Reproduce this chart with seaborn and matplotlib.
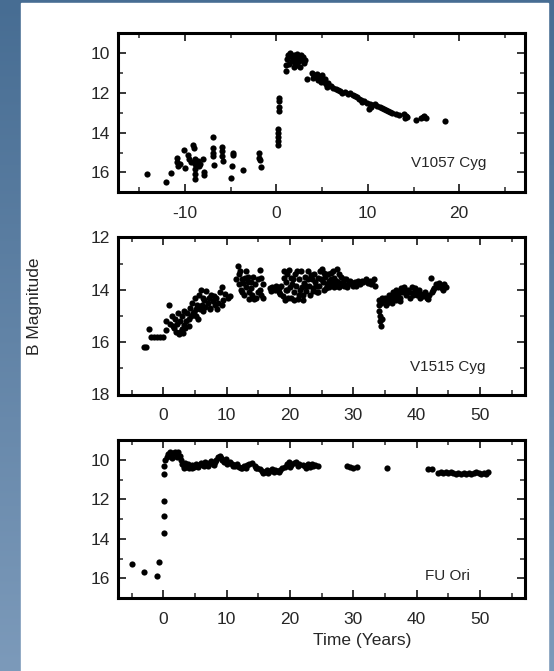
import numpy as np
import matplotlib
matplotlib.use("Agg")
import matplotlib.pyplot as plt
from matplotlib.patches import Rectangle
from matplotlib.ticker import MultipleLocator
import seaborn as sns

sns.set_style("ticks")
plt.rcParams['font.family'] = ['Liberation Sans', 'DejaVu Sans']
plt.rcParams['axes.unicode_minus'] = False

# V1057 Cyg light curve (years, B mag)
v1057_t = [-14.2, -12.1, -11.5, -10.9, -10.9, -10.8, -10.6, -10.1, -10.0, -9.7, -9.6, -9.4,
           -9.1, -9.0, -8.9, -8.9, -8.9, -8.9, -8.9, -8.6, -8.5, -8.4, -8.0, -7.9, -7.9,
           -6.9, -6.9, -6.9, -6.9, -6.8, -6.0, -5.9, -5.9, -5.8, -5.0, -4.9, -4.8, -4.7,
           -3.7, -1.9, -1.9, -1.8, -1.7,
           0.3, 0.25, 0.3, 0.3, 0.2, 0.2, 0.2, 0.2, 0.2,
           1.0, 1.1, 1.2, 1.3, 1.4, 1.5, 1.6, 1.7, 1.8, 1.9, 1.9, 2.0, 2.1, 2.2, 2.3, 2.4,
           2.5, 2.6, 2.8, 3.0, 2.7, 2.9, 3.1, 2.2,
           3.3, 3.9, 4.1, 4.3, 4.5, 4.6, 4.8, 5.0, 5.0, 5.2, 5.4, 5.5,
           4.0, 4.4, 4.9, 5.3, 5.6, 6.0, 6.5, 7.0,
           6.2, 6.7, 7.2, 7.5, 7.8, 8.1, 8.4, 8.8, 9.0, 9.3, 9.6, 9.9, 10.1, 10.2, 10.5,
           8.6, 9.4, 10.3, 10.8, 11.8, 12.2, 13.4, 14.1, 16.4,
           11.0, 11.3, 11.6, 12.0, 12.4, 12.7, 13.1, 14.0, 14.2, 14.3, 15.3, 15.8, 16.0,
           16.2, 18.4]
v1057_b = [16.1, 16.5, 16.05, 15.25, 15.5, 15.7, 15.6, 14.85, 15.8, 15.1, 15.3, 15.5,
           14.6, 14.75, 15.3, 15.6, 15.85, 16.1, 16.35, 15.45, 15.7, 15.6, 15.3, 16.0, 16.15,
           14.2, 14.75, 15.0, 15.15, 15.65, 14.7, 14.9, 15.15, 15.45, 16.3, 15.7, 15.0, 15.1,
           15.9, 15.0, 15.25, 15.4, 15.75,
           12.25, 12.4, 12.7, 12.9, 13.8, 14.0, 14.2, 14.4, 14.6,
           10.9, 10.6, 10.3, 10.1, 10.55, 10.0, 10.15, 10.4, 10.25, 10.1, 10.7, 10.5, 10.2,
           10.35, 10.6, 10.2, 10.4, 10.7, 10.3, 10.5, 10.1, 10.2, 10.35, 10.05,
           11.3, 11.0, 11.1, 11.2, 11.35, 11.15, 11.3, 11.25, 11.1, 11.45, 11.55, 11.7,
           11.25, 11.05, 11.45, 11.3, 11.5, 11.65, 11.8, 11.9,
           11.75, 11.85, 12.0, 11.95, 12.05, 12.0, 12.1, 12.2, 12.3, 12.35, 12.4, 12.5,
           12.8, 12.55, 12.6, 12.15, 12.45, 12.7, 12.55, 12.8, 12.9, 13.1, 13.25, 13.25,
           12.65, 12.7, 12.75, 12.85, 12.95, 13.0, 13.05, 13.05, 13.15,
           13.2, 13.35, 13.25, 13.2, 13.15, 13.4]

# V1515 Cyg light curve
v1515_t = [-3.1, -2.8, -2.2, -2.0, -1.5, -1.0, -0.5, 0.0,
           0.4, 0.5, 0.9, 1.0, 1.3, 1.5, 1.8, 2.0, 2.2, 2.4, 2.5, 2.7, 2.9, 3.0, 3.2, 3.3,
           3.6, 3.8, 4.0, 4.2, 4.4, 4.6, 4.8, 5.0, 5.1, 5.3, 5.5, 5.6, 5.9, 6.1, 6.3, 6.5,
           6.8, 7.0, 7.2, 7.4, 7.6, 7.9, 8.1, 8.3, 8.7, 9.0, 9.3, 9.5, 9.8, 10.2, 10.5,
           1.7, 2.6, 3.1, 3.5, 4.1, 4.7, 5.2, 5.8, 6.2, 6.6, 7.3, 8.0, 8.5, 9.2,
           11.5, 11.8, 11.9, 12.0, 12.2, 12.4, 12.6, 12.8, 13.0, 13.1, 13.3, 13.5, 13.6,
           13.8, 14.0, 14.2, 14.5, 14.7, 15.0, 15.2, 15.3, 15.5, 15.8,
           12.1, 12.5, 12.9, 13.4, 13.9, 14.3, 14.9, 15.4, 15.7,
           16.8, 17.2, 17.6, 18.0, 18.3, 18.6, 18.9, 19.0, 19.2, 19.4, 19.6, 19.8, 20.0,
           20.2, 20.4, 20.6, 20.8, 21.0, 21.2, 21.4, 21.6, 21.8, 22.0, 22.2, 22.4, 22.6,
           22.8, 23.0, 23.2, 23.4, 23.6, 23.8, 24.0, 24.2, 24.4, 24.6, 24.8, 25.0, 25.2,
           25.4, 25.6, 25.8, 26.0, 26.2, 26.4, 26.6, 26.8, 27.0, 27.2, 27.4, 27.6, 27.8,
           28.0, 28.3, 28.6, 28.9, 29.2, 29.5, 29.9, 30.3, 30.7, 31.0, 31.6, 32.0, 32.3,
           32.6, 33.0, 33.3, 33.5,
           17.0, 17.4, 17.8, 18.2, 18.5, 19.1, 19.3, 19.5, 19.7, 20.1, 20.3, 20.7, 21.1,
           21.5, 21.9, 22.1, 22.5, 22.9, 23.3, 23.7, 24.1, 24.5, 24.9, 25.3, 25.7, 26.1,
           26.5, 26.9, 27.3, 27.7, 28.1, 28.5, 29.0, 29.4, 30.0, 30.5, 31.3, 32.8,
           34.1, 34.1, 34.1, 34.2, 34.2, 34.3, 34.4, 34.5, 34.6,
           35.0, 35.3, 35.6, 35.9, 36.2, 36.5, 36.8, 37.1, 37.4, 37.7, 38.0, 38.3, 38.6,
           38.9, 39.2, 39.5, 39.8, 40.1, 40.4, 40.7, 41.0, 41.3, 41.6, 42.0, 42.3, 42.6,
           43.0, 43.3, 43.6, 44.0, 44.3, 44.6,
           34.8, 35.1, 35.5, 35.8, 36.1, 36.4, 36.7, 37.0, 37.3, 37.6, 38.2, 38.8, 39.4,
           40.0, 40.6, 41.2, 41.8, 42.4, 42.8, 43.5, 44.2]
v1515_b = [16.2, 16.2, 15.5, 15.8, 15.8, 15.8, 15.8, 15.8,
           15.2, 15.55, 14.6, 15.3, 15.0, 15.4, 15.1, 15.6, 15.3, 14.9, 15.7, 15.2, 15.5,
           15.0, 15.35, 14.8, 15.2, 14.9, 15.4, 14.7, 15.0, 14.5, 14.85, 14.3, 14.75, 14.6,
           15.1, 14.2, 14.0, 14.6, 14.8, 14.4, 14.05, 14.5, 14.3, 14.7, 14.2, 14.45, 14.6,
           14.3, 14.5, 14.1, 13.9, 14.4, 14.15, 14.3, 14.25,
           15.45, 15.6, 15.65, 15.45, 15.1, 14.9, 15.0, 14.75, 14.3, 14.65, 14.75, 14.25,
           14.75, 14.6,
           13.6, 13.1, 13.4, 13.8, 14.0, 13.6, 13.75, 14.2, 13.3, 13.9, 13.5, 14.1, 14.35,
           13.7, 14.2, 13.5, 13.8, 14.3, 13.6, 14.0, 13.25, 14.2, 13.8,
           13.3, 14.1, 13.55, 13.7, 13.95, 14.35, 14.1, 13.55, 14.3,
           13.95, 13.9, 14.0, 13.9, 14.1, 13.85, 14.25, 13.3, 14.4, 13.7, 14.0, 13.25, 13.9,
           14.3, 13.6, 14.1, 13.4, 13.85, 14.35, 13.6, 14.0, 13.3, 14.2, 13.75, 13.5, 14.05,
           13.3, 13.85, 14.2, 13.6, 13.95, 13.4, 13.7, 14.1, 13.55, 13.85, 13.3, 13.2, 13.7,
           14.0, 13.5, 13.8, 13.4, 13.9, 13.6, 13.75, 13.3, 13.55, 13.85, 13.2, 13.7, 13.9,
           13.5, 13.7, 13.85, 13.6, 13.8, 13.75, 13.85, 13.7, 13.65, 13.8, 13.7, 13.6, 13.75,
           13.65, 13.7, 13.6, 13.85,
           14.05, 13.95, 13.85, 13.95, 14.15, 13.55, 14.0, 13.4, 14.3, 13.55, 13.8, 14.4,
           13.3, 14.2, 13.9, 14.4, 13.85, 13.6, 13.45, 14.05, 13.85, 14.1, 13.6, 13.35,
           13.95, 13.65, 13.35, 13.9, 13.65, 13.4, 13.8, 13.6, 13.9, 13.65, 13.75, 13.85,
           13.65, 13.8,
           14.4, 14.6, 14.8, 15.0, 15.2, 15.4, 14.5, 15.1, 14.3,
           14.3, 14.5, 14.2, 14.4, 14.1, 14.35, 14.0, 14.25, 14.45, 14.1, 13.9, 14.2, 14.0,
           14.3, 13.9, 14.1, 13.95, 14.2, 14.0, 14.15, 14.25, 14.1, 14.3, 14.2, 13.55, 14.0,
           13.8, 13.9, 13.75, 13.95, 13.8, 13.9,
           14.4, 14.6, 14.35, 14.25, 14.5, 14.2, 14.4, 14.1, 14.3, 13.95, 14.05, 14.1, 14.2,
           14.05, 14.3, 14.2, 14.35, 14.1, 13.95, 13.85, 14.0]

# FU Ori light curve
fuori_t = [-5.0, -3.0, -1.0, -0.7, 0.1, 0.1, 0.1, 0.1, 0.15, 0.2,
           0.6, 0.8, 1.0, 1.2, 1.4, 1.6, 1.8, 2.0, 2.2, 2.4, 2.6, 2.8, 3.0, 3.2, 3.4, 3.6,
           3.9, 4.2, 4.5, 4.8, 5.1, 5.4, 5.7, 6.0, 6.3, 6.6, 6.9, 7.2, 7.5, 7.8, 8.1, 8.4,
           8.7, 9.0, 9.3, 9.6, 9.9, 10.2, 10.5, 10.8, 11.1, 11.4, 11.7, 12.0, 12.4, 12.8,
           13.2, 13.6, 14.0, 14.4, 14.8, 15.2, 15.6, 16.0, 16.4, 16.8, 17.2, 17.6, 18.0,
           18.4, 18.8, 19.2, 19.5, 19.8, 20.2, 20.6, 21.0, 21.4, 22.0, 22.4, 22.8, 23.2,
           23.6, 24.0, 24.4,
           3.3, 4.0, 4.6, 5.5, 6.4, 7.0, 8.0, 9.1, 10.0, 11.0, 12.2, 13.0, 14.6, 15.8,
           16.6, 17.4, 18.2, 20.0, 21.2, 22.6, 23.4,
           29.0, 29.5, 30.0, 30.6, 35.3, 41.8, 42.4,
           43.4, 43.8, 44.2, 44.6, 45.0, 45.4, 45.8, 46.2, 46.6, 47.0, 47.4, 47.8, 48.2,
           48.6, 49.0, 49.4, 49.8, 50.2, 50.6, 51.0, 51.3]
fuori_b = [15.3, 15.7, 15.9, 15.2, 13.7, 12.85, 12.1, 10.7, 10.3, 10.0,
           9.85, 9.7, 9.6, 9.75, 9.9, 9.65, 9.6, 9.7, 9.85, 9.6, 9.8, 10.0, 10.2, 10.3,
           10.15, 10.35, 10.2, 10.3, 10.25, 10.35, 10.2, 10.3, 10.25, 10.15, 10.25, 10.1,
           10.2, 10.15, 10.05, 10.2, 10.1, 10.0, 9.85, 9.8, 10.0, 10.1, 9.95, 10.15, 10.1,
           10.2, 10.25, 10.3, 10.2, 10.35, 10.4, 10.3, 10.25, 10.2, 10.15, 10.3, 10.4, 10.45,
           10.55, 10.6, 10.5, 10.55, 10.45, 10.5, 10.55, 10.5, 10.4, 10.35, 10.2, 10.1,
           10.25, 10.15, 10.1, 10.2, 10.25, 10.3, 10.2, 10.35, 10.3, 10.25, 10.3,
           10.4, 10.4, 10.4, 10.35, 10.3, 10.3, 10.25, 9.9, 10.2, 10.3, 10.4, 10.4, 10.4,
           10.65, 10.65, 10.6, 10.6, 10.35, 10.3, 10.4, 10.2,
           10.3, 10.35, 10.4, 10.35, 10.4, 10.45, 10.45,
           10.65, 10.6, 10.65, 10.6, 10.65, 10.6, 10.65, 10.7, 10.65, 10.7, 10.65, 10.7,
           10.65, 10.7, 10.65, 10.6, 10.65, 10.7, 10.65, 10.7, 10.6]

names = ['V1057 Cyg', 'V1515 Cyg', 'FU Ori']

W, H = 554, 671
fig = plt.figure(figsize=(W / 100, H / 100), dpi=100)

# slide background: blue gradient with a white card
bg = fig.add_axes([0, 0, 1, 1], zorder=-10)
grad = np.linspace(0, 1, 256).reshape(-1, 1)
cmap = matplotlib.colors.LinearSegmentedColormap.from_list('slide', ['#476d93', '#7c9aba'])
bg.imshow(grad, aspect='auto', cmap=cmap, extent=[0, 1, 0, 1], origin='upper')
bg.add_patch(Rectangle((21 / W, 0), (548 - 21) / W, 1 - 3 / H, color='white'))
bg.set_xlim(0, 1)
bg.set_ylim(0, 1)
bg.axis('off')

left, width = 118.3 / W, (525 - 118.3) / W
boxes = [(33.3, 192.3), (237.3, 394.5), (440, 598)]
axes = []
for top, bot in boxes:
    axes.append(fig.add_axes([left, 1 - bot / H, width, (bot - top) / H]))

series = [(v1057_t, v1057_b), (v1515_t, v1515_b), (fuori_t, fuori_b)]
xlims = [(-17.3, 27.2), (-7.1, 57.1), (-7.1, 57.1)]
ylims = [(17, 9), (18, 12), (17, 9)]
label_x = [0.905, 0.903, 0.865]
label_y = [15.55, 16.95, 15.9]

for ax, (t, b), xl, yl, name, lx, ly in zip(axes, series, xlims, ylims, names, label_x, label_y):
    sns.scatterplot(x=t, y=b, ax=ax, color='black', s=20, linewidth=0, legend=False)
    ax.set_xlim(*xl)
    ax.set_ylim(*yl)
    ax.xaxis.set_major_locator(MultipleLocator(10))
    ax.xaxis.set_minor_locator(MultipleLocator(5))
    ax.yaxis.set_major_locator(MultipleLocator(2))
    ax.yaxis.set_minor_locator(MultipleLocator(1))
    ax.tick_params(which='both', direction='in', top=True, right=True, labelsize=12.5)
    ax.tick_params(which='major', length=6, width=1.3)
    ax.tick_params(which='minor', length=3.5, width=1.1)
    ax.tick_params(axis='x', pad=10)
    ax.tick_params(axis='y', pad=6)
    for sp in ax.spines.values():
        sp.set_linewidth(2.2)
        sp.set_color('black')
    ax.set_facecolor('white')
    ax.text(lx, ly, name, transform=ax.get_yaxis_transform(), ha='right', va='center',
            fontsize=11)

axes[1].set_ylabel('B Magnitude', fontsize=12.5)
axes[1].yaxis.set_label_coords(-0.188, 0.56)
axes[2].set_xlabel('Time (Years)', fontsize=12.5)
axes[2].xaxis.set_label_coords(0.6, -0.22)

fig.savefig('out.png', dpi=100)
